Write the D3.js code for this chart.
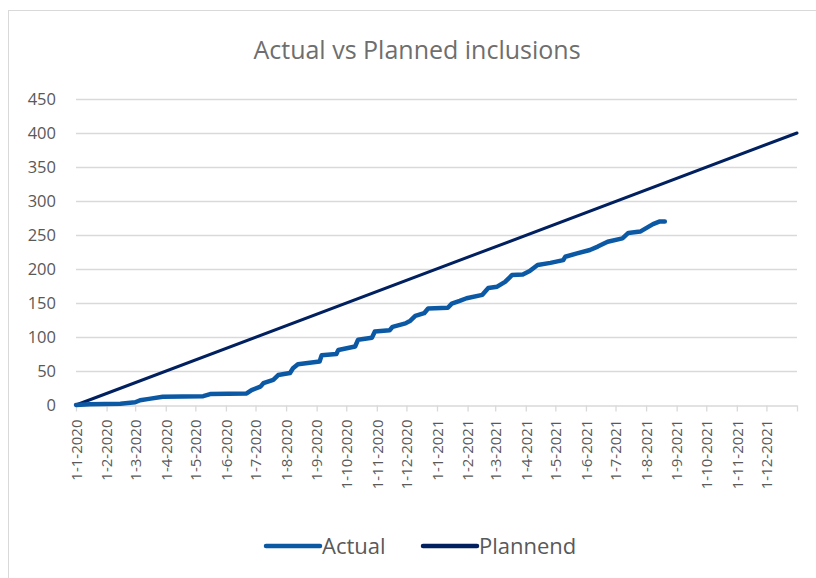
<!DOCTYPE html>
<html>
<head>
<meta charset="utf-8">
<script src="https://cdn.jsdelivr.net/npm/d3@7"></script>
<style>
  body { margin: 0; background: #fff; }
  text { font-family: "Open Sans", "Noto Sans", sans-serif; fill: #595959; }
</style>
</head>
<body>
<svg width="816" height="578"></svg>
<script>
const actualDates = ["2020-01-01","2020-01-15","2020-02-15","2020-03-01","2020-03-06","2020-03-15","2020-03-29","2020-05-09","2020-05-16",
  "2020-06-22","2020-06-27","2020-07-06","2020-07-09","2020-07-19","2020-07-24","2020-08-05","2020-08-08","2020-08-13",
  "2020-09-04","2020-09-06","2020-09-21","2020-09-23","2020-10-10","2020-10-13","2020-10-27","2020-10-30","2020-11-14",
  "2020-11-17","2020-11-30","2020-12-05","2020-12-10","2020-12-19","2020-12-23","2021-01-12","2021-01-16","2021-01-24",
  "2021-01-31","2021-02-16","2021-02-22","2021-03-03","2021-03-11","2021-03-18","2021-03-29","2021-04-05","2021-04-13",
  "2021-04-26","2021-05-09","2021-05-11","2021-05-23","2021-06-05","2021-06-13","2021-06-23","2021-07-08","2021-07-14",
  "2021-07-26","2021-08-08","2021-08-15","2021-08-20"];
const actualValues = [0,1,2,4,7,9,12,13,16,
  17,22,27,32,37,44,47,54,60,
  64,73,75,81,86,96,99,108,110,
  115,120,124,131,135,142,143,149,153,
  157,162,172,174,181,191,192,197,206,
  209,213,218,223,228,233,240,245,253,
  255,266,270,270];
const plannedDates = ["2020-01-01","2022-01-01"];
const plannedValues = [0,400];
const yTicks = [0,50,100,150,200,250,300,350,400,450];
const monthTicks = ["2020-01-01","2020-02-01","2020-03-01","2020-04-01","2020-05-01","2020-06-01","2020-07-01","2020-08-01",
  "2020-09-01","2020-10-01","2020-11-01","2020-12-01","2021-01-01","2021-02-01","2021-03-01","2021-04-01","2021-05-01",
  "2021-06-01","2021-07-01","2021-08-01","2021-09-01","2021-10-01","2021-11-01","2021-12-01"];

const svg = d3.select("svg");
const parse = d3.utcParse("%Y-%m-%d");
const fmt = d3.utcFormat("%-d-%-m-%Y");

const actual = actualDates.map((d, i) => ({ date: parse(d), value: actualValues[i] }));
const planned = plannedDates.map((d, i) => ({ date: parse(d), value: plannedValues[i] }));

const x = d3.scaleUtc().domain([parse("2020-01-01"), parse("2022-01-01")]).range([76, 797]);
const y = d3.scaleLinear().domain([0, 450]).range([405, 99]);

// chart border
svg.append("rect").attr("x", 8.5).attr("y", 10.5).attr("width", 830).attr("height", 600)
  .attr("fill", "none").attr("stroke", "#d9d9d9");

svg.append("text").attr("x", 417).attr("y", 59).attr("text-anchor", "middle")
  .style("font-size", "25px").style("fill", "#6e6e6e").text("Actual vs Planned inclusions");

// gridlines
svg.append("g").selectAll("line").data(yTicks.filter(d => d > 0)).join("line")
  .attr("x1", 76).attr("x2", 797)
  .attr("y1", d => y(d) + 0.5).attr("y2", d => y(d) + 0.5)
  .attr("stroke", "#d9d9d9").attr("stroke-width", 1.3);

// y labels
svg.append("g").selectAll("text").data(yTicks).join("text")
  .attr("x", 56).attr("y", d => y(d)).attr("dy", "0.35em")
  .attr("text-anchor", "end").style("font-size", "16.5px")
  .text(d => d);

// x axis
const xAxis = svg.append("g").attr("transform", "translate(0,405.5)")
  .call(d3.axisBottom(x).tickValues(monthTicks.map(parse).concat([parse("2022-01-01")]))
    .tickSize(6).tickSizeOuter(0).tickFormat(d => d.getUTCFullYear() === 2022 ? "" : fmt(d)));
xAxis.select(".domain").attr("stroke", "#d9d9d9").attr("stroke-width", 1.3);
xAxis.selectAll(".tick line").attr("stroke", "#d9d9d9").attr("stroke-width", 1.3);
xAxis.selectAll(".tick text")
  .attr("transform", "rotate(-90)")
  .attr("x", -14).attr("y", 0).attr("dy", "0.35em")
  .attr("text-anchor", "end")
  .style("font-size", "15px").style("fill", "#595959")
  .style("font-family", "\"Open Sans\", \"Noto Sans\", sans-serif");

const line = d3.line().x(d => x(d.date)).y(d => y(d.value));

svg.append("path").datum(planned)
  .attr("d", line)
  .attr("fill", "none").attr("stroke", "#002060").attr("stroke-width", 3).attr("stroke-linecap", "round");

svg.append("path").datum(actual)
  .attr("d", line)
  .attr("fill", "none").attr("stroke", "#0B59A5").attr("stroke-width", 4.5)
  .attr("stroke-linecap", "round").attr("stroke-linejoin", "round");

// legend
const legend = [
  { name: "Actual", color: "#0B59A5", x: 266 },
  { name: "Plannend", color: "#002060", x: 423 }
];
const lg = svg.append("g").selectAll("g").data(legend).join("g")
  .attr("transform", d => `translate(${d.x},546)`);
lg.append("line").attr("x1", 0).attr("x2", 54)
  .attr("stroke", d => d.color).attr("stroke-width", 4.5).attr("stroke-linecap", "round");
lg.append("text").attr("x", 56).attr("dy", "0.35em").style("font-size", "22px").text(d => d.name);
</script>
</body>
</html>
